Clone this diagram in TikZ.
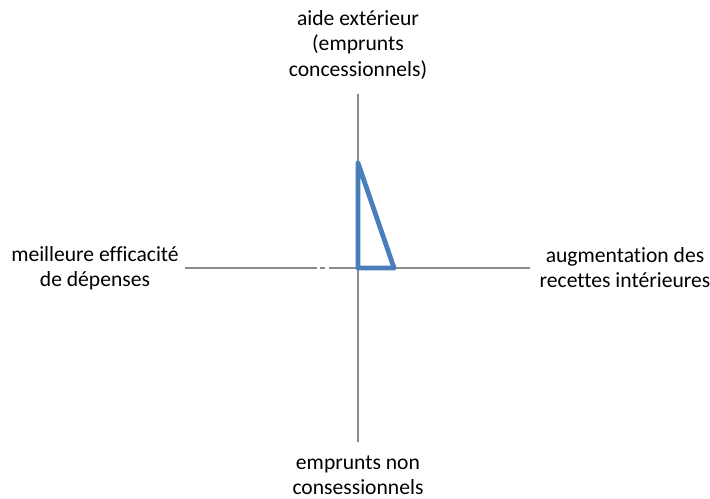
\documentclass[tikz,border=0pt]{standalone}
\usepackage{fontspec}
\setmainfont{Carlito}[Ligatures=NoCommon]
\definecolor{axisgray}{HTML}{8C8C8C}
\definecolor{seriesblue}{HTML}{4A7EBB}
\tikzset{
    axisline/.style={axisgray, line width=1.1pt},
    series/.style={seriesblue, line width=3.6pt, line join=round},
    axislabel/.style={align=center, font=\fontsize{16.2}{18.75}\selectfont, inner sep=0pt}
}
\begin{document}
\begin{tikzpicture}[x=0.75pt, y=-0.75pt]
        \useasboundingbox (0, 0) rectangle (710, 499);
        \coordinate (O) at (358, 268);
        \coordinate (N) at (358, 94);
        \coordinate (S) at (358, 442);
        \coordinate (W) at (185, 268);
        \coordinate (E) at (530, 268);
        \draw[axisline] (N) -- (S);
        \draw[axisline] (W) -- (E);
        \draw[white, line width=1.2pt] (317, 268) -- (320, 268);
        \draw[white, line width=1.2pt] (325, 268) -- (329, 268);
        % triangle of the series
        \coordinate (A) at (358, 163);
        \coordinate (B) at (394, 268);
        \draw[series] (O) -- (A) -- (B) -- cycle;
        \node[axislabel] (top) at (358, 45) {aide extérieur\\(emprunts\\concessionnels)};
        \node[axislabel] (bottom) at (358, 475) {emprunts non\\consessionnels};
        \node[axislabel] (left) at (95, 268) {meilleure efficacité\\de dépenses};
        \node[axislabel] (right) at (625, 268) {augmentation des\\recettes intérieures};
    \end{tikzpicture}
\end{document}
